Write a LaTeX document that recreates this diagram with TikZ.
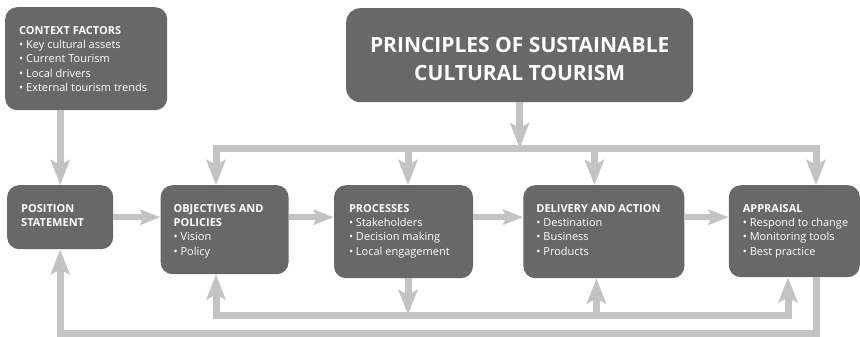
\documentclass[tikz,border=0pt]{standalone}
\usepackage{fontspec}
\setmainfont{Open Sans}
\usetikzlibrary{calc, positioning, arrows.meta}
\definecolor{boxgray}{HTML}{686868}
\definecolor{flowgray}{HTML}{C3C3C3}

\begin{document}
\begin{tikzpicture}[
    x = 1pt, y = 1pt,
    every node/.style = {font=\fontsize{11}{14.4}\selectfont, text=white},
    stage/.style = {rectangle, rounded corners=12pt, fill=boxgray, inner sep=0pt},
    stagetext/.style = {anchor=north west, align=left, inner sep=0pt},
    flow/.style = {draw=flowgray, line width=7pt, line join=miter},
    arr/.style  = {flow, -{Stealth[length=25pt, width=19pt, inset=5pt]}},
    harr/.style = {flow, line width=6pt, -{Stealth[length=20pt, width=15pt, inset=3pt]}},
]
\useasboundingbox (0,0) rectangle (860,-337);

% context and principles
\node[stage, anchor=north west, minimum width=162pt, minimum height=103pt] (ctx) at (5,-7) {};
\node[stagetext] (ctxtext) at ($(ctx.north west)+(14,-19)$)
    {\textbf{CONTEXT FACTORS}\\• Key cultural assets\\• Current Tourism\\• Local drivers\\• External tourism trends};
\node[stage, anchor=north west, minimum width=347pt, minimum height=94pt, rounded corners=14pt] (prin) at (346,-8) {};
\node[font=\fontsize{21}{28.5}\selectfont\bfseries, align=center] (printext) at ($(prin.center)+(0,-4)$)
    {PRINCIPLES OF SUSTAINABLE\\CULTURAL TOURISM};

% stages row
\node[stage, anchor=north west, minimum width=106pt, minimum height=64pt] (pos) at (7,-185) {};
\node[stage, minimum width=128pt, minimum height=89pt, right=47pt of pos.north east, anchor=north west] (obj) {};
\node[stage, minimum width=139pt, minimum height=93pt, right=45pt of obj.north east, anchor=north west] (proc) {};
\node[stage, minimum width=161pt, minimum height=93pt, right=50pt of proc.north east, anchor=north west] (del) {};
\node[stage, minimum width=131pt, minimum height=92pt, right=44pt of del.north east, anchor=north west] (app) {};

\node[stagetext] (postext) at ($(pos.north west)+(14,-19)$) {\textbf{POSITION}\\\textbf{STATEMENT}};
\node[stagetext] (objtext) at ($(obj.north west)+(13,-19)$) {\textbf{OBJECTIVES AND}\\\textbf{POLICIES}\\• Vision\\• Policy};
\node[stagetext] (proctext) at ($(proc.north west)+(15,-19)$) {\textbf{PROCESSES}\\• Stakeholders\\• Decision making\\• Local engagement};
\node[stagetext] (deltext) at ($(del.north west)+(13,-19)$) {\textbf{DELIVERY AND ACTION}\\• Destination\\• Business\\• Products};
\node[stagetext] (apptext) at ($(app.north west)+(14,-19)$) {\textbf{APPRAISAL}\\• Respond to change\\• Monitoring tools\\• Best practice};

% bus points
\coordinate (tl) at (216,-148);
\coordinate (tr) at (816,-148);
\coordinate (bl) at (216,-315);
\coordinate (br) at (788,-315);
\coordinate (ob) at (816,-333);
\coordinate (pd) at ([xshift=4.5pt]proc.north);
\coordinate (dd) at ([xshift=-9.5pt]del.north);
\coordinate (pb) at ([xshift=4.5pt]proc.south);
\coordinate (db) at ([xshift=-7.5pt]del.south);

% arrows from above
\draw[arr] (pos |- ctx.south) -- (pos.north);
\draw[arr] (prin.south) -- (prin.south |- tl);
\draw[arr] (tr) -- (tl) -- (tl |- obj.north);
\draw[arr] (tl) -- (tr) -- (tr |- app.north);
\draw[arr] (pd |- tl) -- (pd);
\draw[arr] (dd |- tl) -- (dd);

% arrows along the row
\draw[harr] (pos.east) -- (obj.west |- pos.east);
\draw[harr] (obj.east |- pos.east) -- (proc.west |- pos.east);
\draw[harr] (proc.east |- pos.east) -- (del.west |- pos.east);
\draw[harr] (del.east |- pos.east) -- (app.west |- pos.east);

% feedback below
\draw[arr] (pb) -- (pb |- bl);
\draw[arr] (pb |- bl) -- (bl) -- (obj.south -| bl);
\draw[arr] (pb |- bl) -- (br) -- (br |- app.south);
\draw[arr] (db |- bl) -- (db);
\draw[arr] (app.south -| ob) -- (ob) -- (ob -| pos) -- (pos.south);
\end{tikzpicture}
\end{document}
